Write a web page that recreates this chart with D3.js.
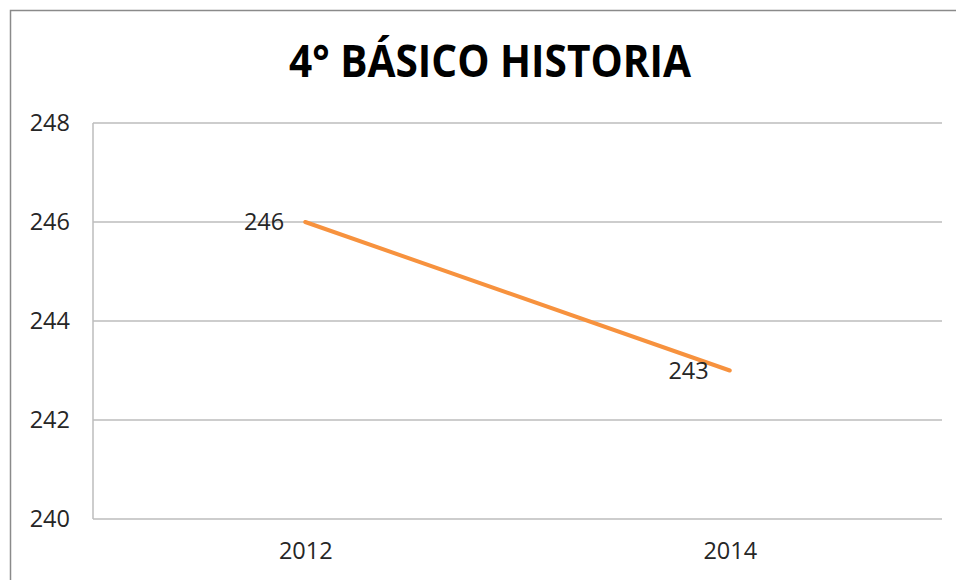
<!DOCTYPE html>
<html><head><meta charset="utf-8">
<script src="https://cdn.jsdelivr.net/npm/d3@7"></script>
<style>body{margin:0;background:#fff}svg{display:block}</style>
</head><body>
<svg id="chart" width="956" height="580"></svg>
<script>
const title = "4° BÁSICO HISTORIA";
const categories = ["2012", "2014"];
const values = [246, 243];
const yTicks = [240, 242, 244, 246, 248];

const svg = d3.select("#chart");
const W = 956, H = 580;
const m = {left: 93, right: 14, top: 123, bottom: 61};

svg.append("rect").attr("x", 10.5).attr("y", 10.5).attr("width", W + 20).attr("height", H + 20)
  .attr("fill", "#fff").attr("stroke", "#8a8a8a").attr("stroke-width", 1.5);

const x = d3.scalePoint().domain(categories).range([m.left, W - m.right]).padding(0.5);
const y = d3.scaleLinear().domain([240, 248]).range([H - m.bottom, m.top]);

const font = "'Open Sans', sans-serif";
const fs = 23.5;

// gridlines
svg.append("g").selectAll("line").data(yTicks).join("line")
  .attr("x1", m.left).attr("x2", W - m.right)
  .attr("y1", d => y(d)).attr("y2", d => y(d))
  .attr("stroke", "#bdbdbd").attr("stroke-width", 1.5);

// y axis line
svg.append("line").attr("x1", m.left).attr("x2", m.left).attr("y1", y(248)).attr("y2", y(240))
  .attr("stroke", "#bdbdbd").attr("stroke-width", 1.5);

// y tick labels
const yAxis = d3.axisLeft(y).tickValues(yTicks).tickSize(0).tickPadding(23).tickFormat(d3.format("d"));
const gy = svg.append("g").attr("transform", `translate(${m.left},0)`).call(yAxis);
gy.select(".domain").remove();
gy.selectAll("text").attr("font-family", font).attr("font-size", fs).attr("fill", "#262626");

// x axis labels
const xAxis = d3.axisBottom(x).tickSize(0).tickPadding(23);
const gx = svg.append("g").attr("transform", `translate(0,${y(240)})`).call(xAxis);
gx.select(".domain").remove();
gx.selectAll("text").attr("font-family", font).attr("font-size", fs).attr("fill", "#262626");

// line
const data = categories.map((c, i) => ({c, v: values[i]}));
svg.append("path").datum(data)
  .attr("d", d3.line().x(d => x(d.c)).y(d => y(d.v)))
  .attr("fill", "none").attr("stroke", "#F7923E").attr("stroke-width", 4).attr("stroke-linecap", "round");

// data labels
svg.append("g").selectAll("text").data(data).join("text")
  .attr("x", d => x(d.c) - 21).attr("y", d => y(d.v)).attr("dy", "0.36em")
  .attr("text-anchor", "end").attr("font-family", font).attr("font-size", fs).attr("fill", "#262626")
  .text(d => d.v);

// title
svg.append("text").attr("x", 490).attr("y", 77).attr("text-anchor", "middle")
  .attr("font-family", font).attr("font-weight", "bold").attr("font-size", 45).attr("fill", "#000")
  .attr("textLength", 402).attr("lengthAdjust", "spacingAndGlyphs")
  .text(title);
</script>
</body></html>
